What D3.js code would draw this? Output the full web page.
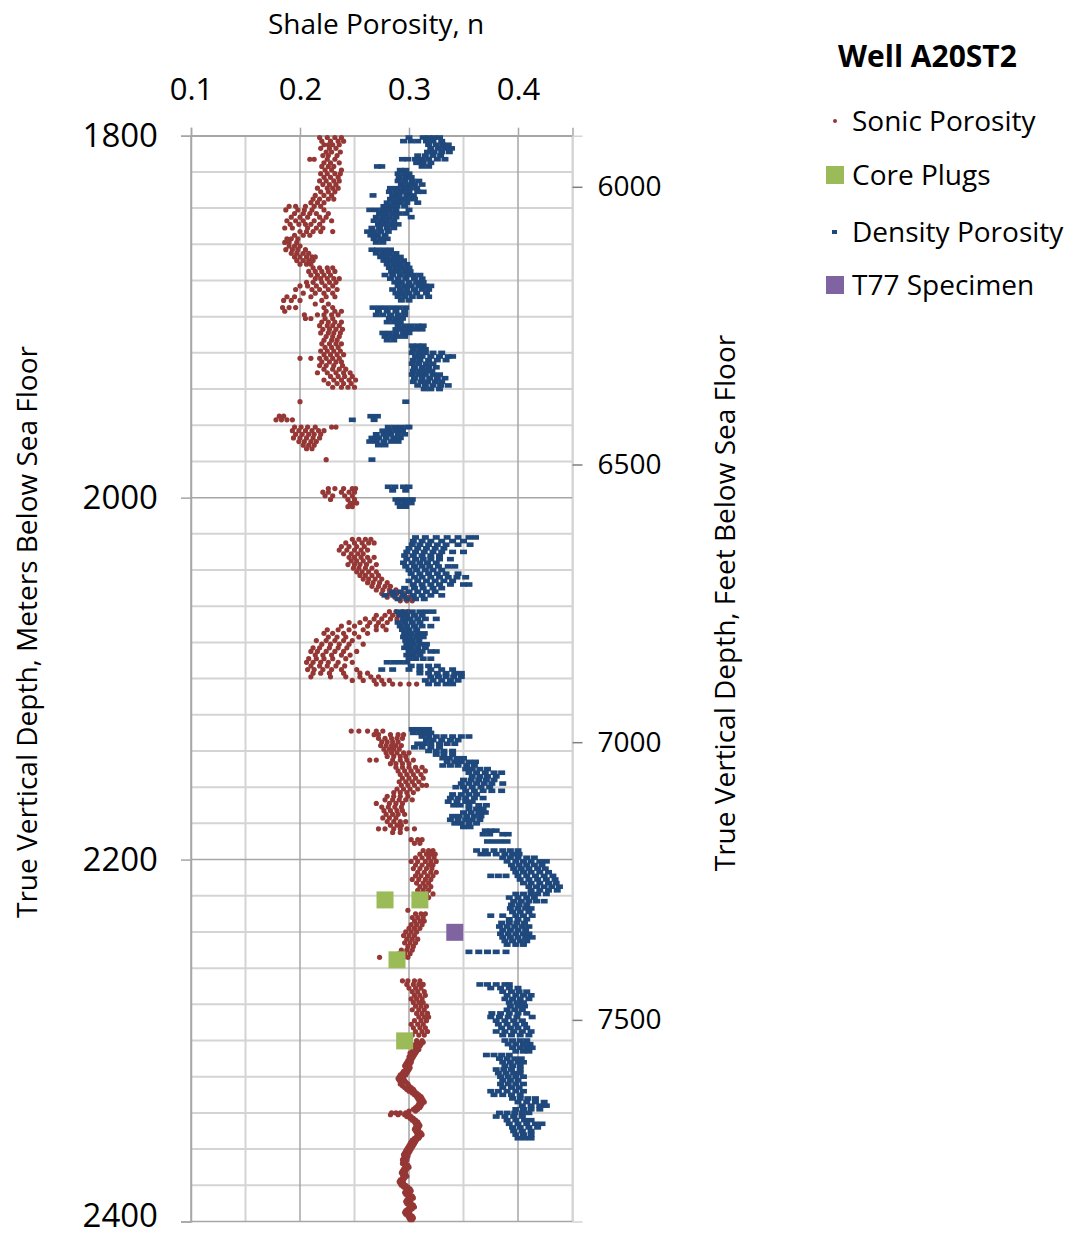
<!DOCTYPE html>
<html><head><meta charset="utf-8">
<script src="https://cdn.jsdelivr.net/npm/d3@7"></script>
<style>
html,body{margin:0;padding:0;background:#fff;}
svg{display:block;}
text{font-family:"Open Sans","Noto Sans",sans-serif;fill:#000;}
</style></head><body>
<svg id="chart" width="1068" height="1237"></svg>
<script>
// ---- Data ----
const xTicks = [0.1, 0.2, 0.3, 0.4];
const yTicks = [1800, 2000, 2200, 2400];
const ftTicks = [6000, 6500, 7000, 7500];
const seriesNames = ["Sonic Porosity", "Core Plugs", "Density Porosity", "T77 Specimen"];

// Sonic porosity: [depth m, porosity values...]
const sonicRows = [
[1801,.218,.225,.232,.238],[1803,.220,.228,.235,.240],[1805,.222,.226,.230,.236],[1807,.219,.227,.233],
[1809,.224,.229,.237],[1811,.221,.226,.234],[1813,.209,.213,.225,.232],[1815,.222,.228,.236],
[1817,.220,.226,.231],[1819,.223,.229,.238],[1821,.219,.225,.232,.237],[1823,.222,.228,.235],
[1825,.218,.224,.231,.236],[1827,.221,.227,.233],[1829,.216,.225,.230,.235],[1831,.219,.226,.232],
[1833,.214,.222,.229],[1835,.212,.218,.226,.231],[1837,.210,.216,.222],[1839,.190,.196,.205,.213,.219],
[1841,.187,.198,.204,.211,.222],[1843,.195,.203,.209,.215,.226],[1845,.192,.200,.207,.218,.224],
[1847,.188,.196,.203,.213,.221,.229],[1849,.191,.199,.205,.210,.218],[1851,.186,.193,.207,.215,.221],
[1853,.200,.206,.212,.219,.230],[1855,.195,.203,.209],[1857,.188,.192,.198],[1859,.186,.190,.197],
[1861,.190,.195,.200],[1863,.187,.193,.198,.205],[1865,.192,.197,.203,.208],[1867,.195,.200,.206,.211,.214],
[1869,.197,.203,.208,.212],[1871,.200,.206,.210],[1873,.212,.218,.225,.230],[1875,.208,.214,.220,.226,.232],
[1877,.210,.216,.222,.228],[1879,.214,.219,.225,.231,.236],[1881,.206,.212,.220,.227,.233],
[1883,.200,.207,.215,.223,.230],[1885,.196,.211,.218,.226,.234],[1887,.203,.214,.222,.230],
[1889,.188,.195,.210,.224,.232],[1891,.185,.192,.200,.220],[1893,.214,.226],[1895,.184,.190,.196,.222,.230],
[1897,.186,.224,.232,.238],[1899,.204,.216,.222,.229,.235],[1901,.205,.210,.223,.230],
[1903,.220,.226,.232,.238],[1905,.218,.225,.230,.236],[1907,.221,.227,.233,.239],[1909,.219,.226,.231,.237],
[1911,.224,.230,.236],[1913,.222,.229,.234],[1915,.220,.227,.233,.238],[1917,.223,.229,.235],
[1919,.219,.225,.231,.237],[1921,.222,.228,.234,.240],[1923,.200,.210,.218,.224,.230,.236],
[1925,.220,.227,.233,.238],[1927,.218,.224,.231,.239],[1929,.222,.230,.236,.242],
[1931,.216,.225,.233,.240,.246],[1933,.228,.235,.241,.248],[1935,.222,.231,.238,.245,.251],
[1937,.226,.234,.240,.247],[1939,.230,.238,.244,.250],[1947,.200],[1955,.181,.185],
[1957,.178,.183,.188,.193],[1961,.195,.201,.207,.214,.229,.233],[1963,.193,.199,.205,.211,.217,.222],
[1965,.196,.202,.208,.213,.219],[1967,.194,.200,.206,.212,.218],[1969,.199,.204,.210,.215],
[1971,.203,.208,.213],[1973,.206,.211],[1979,.224],[1995,.226,.232,.240,.248,.251],
[1997,.221,.226,.238,.245,.250],[1999,.223,.230,.241,.248],[2001,.228,.244,.250],[2003,.246,.249,.252],
[2005,.244,.248],
[2023,.248,.254,.260,.265],[2025,.242,.250,.257,.263,.268],[2027,.238,.245,.252,.259],
[2029,.236,.243,.250,.256,.262],[2031,.240,.247,.253,.258],[2033,.245,.250,.256,.262,.268],
[2035,.247,.252,.258,.264],[2037,.244,.250,.255,.261,.270],[2039,.249,.254,.260,.266],
[2041,.252,.257,.263,.270],[2043,.255,.260,.266,.272],[2045,.258,.263,.269,.275],
[2047,.262,.267,.273,.280],[2049,.266,.272,.278,.283],[2051,.270,.276,.282,.288],
[2053,.275,.282,.289,.296],[2055,.280,.287,.293,.300,.304],[2057,.292,.298,.303],
[2063,.282,.288,.294,.299],[2065,.270,.278,.285,.290,.296],[2067,.260,.268,.275,.283,.289],
[2069,.245,.255,.264,.272,.280],[2071,.238,.250,.262,.270,.276],[2073,.225,.235,.245,.258,.270,.279],
[2075,.222,.230,.240,.250,.262],[2077,.226,.234,.242,.254],[2079,.215,.224,.232,.240,.248],
[2081,.220,.228,.236,.245,.258],[2083,.212,.218,.227,.235,.243],[2085,.210,.216,.224,.232,.240,.252],
[2087,.214,.221,.229,.238,.246],[2089,.208,.215,.222,.230,.242],[2091,.206,.212,.219,.226,.235,.248],
[2093,.210,.218,.225,.233,.241],[2095,.207,.213,.221,.229,.238,.252],[2097,.212,.219,.227,.240,.255,.262],
[2099,.210,.228,.242,.255,.265,.272],[2101,.248,.258,.268,.275,.282],[2103,.270,.277,.285,.292,.300,.307],
[2129,.247,.254,.262,.270,.276],[2131,.268,.272,.283,.290,.295],[2133,.272,.278,.284,.289,.294],
[2135,.275,.280,.285,.290],[2137,.274,.279,.284,.288,.293],[2139,.277,.282,.286,.291],
[2141,.279,.284,.289,.295,.300],[2143,.280,.286,.292,.297],[2145,.264,.270,.285,.292,.298,.304],
[2147,.283,.288,.294,.300],[2149,.288,.294,.300,.306,.312],[2151,.290,.296,.302,.308,.315],
[2153,.292,.298,.304,.311],[2155,.294,.300,.306,.313],[2157,.291,.297,.303,.309],
[2159,.293,.299,.305,.312,.316],[2161,.289,.295,.301,.308],[2163,.286,.292,.298,.304],
[2165,.280,.286,.292,.299],[2167,.278,.285,.291,.297,.303],[2169,.270,.282,.288,.294],
[2171,.275,.281,.287,.293],[2173,.277,.283,.289,.294],[2175,.279,.285,.290,.296],[2177,.276,.282,.288],
[2179,.280,.286,.292,.297],[2181,.283,.289,.293],[2183,.272,.278,.286,.292,.298,.305],[2185,.285,.292],
[2189,.302,.308,.312],[2191,.305,.310],[2195,.313,.318,.322],[2197,.310,.316,.320,.324],
[2199,.306,.312,.318,.323],[2201,.302,.308,.315,.320,.325],[2203,.306,.312,.318,.322],
[2205,.304,.310,.316,.321],[2207,.308,.314,.320,.325],[2209,.306,.311,.317,.322],
[2211,.303,.309,.315,.320],[2213,.307,.313,.318],[2215,.310,.315,.320],[2217,.308,.313,.318],
[2219,.311,.316,.322],[2221,.313,.318],[2228,.299],[2230,.306,.311,.315],[2232,.303,.308,.313],
[2234,.305,.310,.314],[2236,.302,.307,.312],[2238,.300,.305,.310],[2240,.297,.302,.307],
[2242,.295,.300,.305],[2244,.298,.303,.308],[2246,.296,.301,.306],[2248,.299,.304],
[2250,.293,.298,.303],[2252,.291,.296,.301],[2254,.273,.295,.299],
[2267,.294,.299,.305,.310],[2269,.298,.304,.309,.313],[2271,.300,.306,.311],[2273,.303,.308,.314],
[2275,.305,.310,.315],[2277,.302,.307,.312],[2279,.304,.309,.313],[2281,.306,.311,.316],
[2283,.303,.309,.314],[2285,.307,.312,.317],[2287,.309,.314,.318],[2289,.305,.311,.316],
[2291,.302,.308,.313],[2293,.304,.310,.315],[2295,.306,.312,.317],[2297,.303,.309,.314],
[2300,.307,.312],[2301,.308,.313],[2302,.306,.311],[2303,.305,.310],[2304,.307],[2305,.304,.309],
[2306,.303,.307],[2307,.301,.306],[2308,.302,.305],[2309,.300,.304],[2310,.301,.303],[2311,.299,.302],
[2312,.298,.302],[2313,.297,.301],[2314,.296,.300],[2315,.298,.301],[2316,.297,.300],[2317,.295,.299],
[2318,.294,.298],[2319,.292,.297],[2320,.291,.295],[2321,.290,.294],[2322,.291,.296],[2323,.293,.297],
[2324,.292,.299],[2325,.294,.300],[2326,.296,.302],[2327,.298,.304],[2328,.300,.305],[2329,.303,.307],
[2330,.305,.309],[2331,.307,.311],[2332,.308,.312],[2333,.309,.313],[2334,.310,.314],[2335,.309,.312],
[2336,.308,.311],[2337,.306,.310],[2338,.304,.308],[2339,.300,.306],[2340,.284,.288,.292,.297],
[2341,.283,.290,.296,.300],[2342,.298,.302],[2343,.301,.304],[2344,.303,.306],[2345,.305,.308],
[2346,.306,.309],[2347,.307,.310],[2348,.306,.309],[2349,.305,.308],[2350,.306,.309],[2351,.307,.311],
[2352,.308,.312],[2353,.307,.310],[2354,.305,.309],[2355,.303,.307],[2356,.302,.306],[2357,.301,.305],
[2358,.300,.304],[2359,.299,.303],[2360,.298,.302],[2361,.297,.301],[2362,.296,.300],[2363,.295,.299],
[2364,.296,.299],[2365,.295,.298],[2366,.294,.298],[2367,.295,.297],[2368,.294,.297],[2369,.296,.299],
[2370,.297,.300],[2371,.295,.298],[2372,.294,.297],[2373,.293,.296],[2374,.294,.297],[2375,.295,.298],
[2376,.294,.296],[2377,.292,.295],[2378,.291,.294],[2379,.292,.295],[2380,.293,.297],[2381,.295,.299],
[2382,.297,.301],[2383,.298,.302],[2384,.296,.300],[2385,.297,.301],[2386,.299,.303],[2387,.300,.304],
[2388,.298,.302],[2389,.297,.301],[2390,.298,.302],[2391,.300,.304],[2392,.301,.305],[2393,.299,.303],
[2394,.297,.301],[2395,.296,.300],[2396,.297,.301],[2397,.299,.303],[2398,.300,.304],[2399,.301,.303]
];

// Density porosity: [depth m, porosity values...]
const densityRows = [
[1801,.300,.313,.318,.323,.328],[1803,.295,.302,.308,.316,.322,.330],[1805,.318,.325,.331,.336],
[1807,.320,.327,.333,.339],[1809,.317,.323,.330,.337],[1811,.308,.315,.322,.329],
[1813,.294,.299,.306,.312,.318,.326,.333],[1815,.307,.313,.320],[1817,.271,.275,.312,.318],
[1819,.292,.297],[1821,.290,.296,.300],[1823,.291,.297,.302],[1825,.290,.296,.303,.309],
[1827,.293,.299,.305,.312],[1829,.283,.289,.295,.301,.307],[1831,.282,.288,.294,.300,.308,.313],
[1833,.267,.285,.291,.298,.304],[1835,.283,.289,.294,.300,.305],[1837,.280,.286,.292,.298,.308],
[1839,.277,.283,.289,.296],[1841,.264,.270,.276,.282,.288,.300],[1843,.273,.279,.285,.291,.297],
[1845,.270,.276,.282,.288,.302],[1847,.268,.274,.280,.286],[1849,.272,.278,.284,.290],
[1851,.266,.273,.280,.286],[1853,.262,.268,.274,.281],[1855,.265,.271,.278],[1857,.268,.274,.280],
[1859,.270,.276],[1863,.266,.271,.277,.283],[1865,.270,.276,.282,.288],[1867,.274,.280,.286,.292],
[1869,.277,.283,.289,.295],[1871,.280,.286,.292,.298],[1873,.282,.288,.294,.300],
[1875,.284,.290,.296,.301],[1877,.278,.285,.292,.298,.304,.310],[1879,.283,.290,.297,.305,.312],
[1881,.287,.293,.300,.307,.313],[1883,.290,.296,.302,.309,.315,.320],[1885,.285,.292,.298,.305,.312,.318],
[1887,.288,.294,.300,.307,.316],[1889,.290,.296,.303,.310,.318],[1891,.293,.300],
[1895,.267,.273,.279,.285,.291,.297],[1897,.272,.280,.288,.296],
[1899,.270,.276,.283,.290,.296],[1901,.282,.288,.294],[1903,.280,.286,.292],
[1905,.290,.296,.302,.308,.313],[1907,.288,.294,.300,.306,.312],[1909,.276,.282,.288,.295,.300],
[1911,.278,.284,.290,.296],[1913,.280,.286],[1916,.303,.308,.313],[1918,.304,.310,.315],
[1920,.303,.309,.315,.322,.330],[1922,.306,.312,.320,.328,.336,.340],[1924,.304,.310,.318,.326,.334],
[1926,.303,.309,.316,.322],[1928,.305,.312,.318,.325],[1930,.304,.310,.316,.321],
[1932,.303,.309,.315,.322,.328],[1934,.305,.312,.319,.326,.333],[1936,.304,.311,.317,.324,.330],
[1938,.308,.315,.322,.329,.336],[1940,.314,.320,.328],[1947,.297],[1955,.265,.271],[1957,.248,.268],
[1961,.281,.287,.293,.299,.300],[1963,.276,.282,.288,.294],[1965,.270,.277,.283,.290,.296],
[1967,.266,.272,.279,.286,.292],[1969,.264,.270,.277,.284,.290],[1971,.272,.278],[1979,.266],
[1994,.281,.287,.295,.300],[1996,.285,.297],
[2001,.288,.293,.298,.303],[2003,.290,.296,.302],[2005,.292,.297],
[2022,.306,.315,.325,.335,.345,.355,.361],[2024,.304,.312,.320,.330,.340,.350],
[2026,.303,.310,.318,.326,.334,.345,.356],[2028,.300,.308,.316,.324,.332],
[2030,.298,.306,.314,.322,.330,.340,.350],[2032,.296,.304,.312,.320,.328],
[2034,.298,.306,.313,.320,.328,.338],[2036,.295,.303,.310,.317,.325],
[2038,.297,.305,.312,.319,.327,.336,.342],[2040,.300,.307,.315,.322,.330],
[2042,.302,.310,.318,.326,.334,.345],[2044,.305,.312,.320,.328,.336,.344,.352],
[2046,.300,.308,.316,.324,.332,.340],[2048,.304,.312,.320,.328,.338,.350,.355],
[2050,.296,.305,.313,.322,.330],[2052,.285,.292,.300,.308,.316,.324],
[2054,.278,.286,.295,.304,.312,.320,.330],[2056,.290,.298,.306,.314],
[2063,.290,.296,.303,.310,.316,.322],[2065,.292,.298,.305,.312],[2067,.295,.301,.308,.315,.325],
[2069,.290,.296,.303,.310],[2071,.292,.298,.305,.312,.320],[2073,.294,.300,.307],
[2075,.296,.302,.308,.314],[2077,.295,.301,.307,.313],[2079,.297,.303,.309],
[2081,.298,.304,.310,.316],[2083,.296,.302,.308,.315],[2085,.300,.306,.312,.320,.325],
[2087,.298,.304,.310],[2089,.300,.306,.313,.320],[2091,.280,.286,.292,.298],
[2093,.302,.310,.318,.326],[2095,.275,.285,.300,.310,.320,.330,.340],
[2097,.310,.318,.326,.334,.342,.348],[2099,.320,.327,.334,.341,.348],
[2101,.315,.322,.330,.338,.345],[2103,.318,.326,.334,.340],
[2128,.303,.308,.313,.318],[2130,.304,.310,.316,.320],[2132,.312,.318,.325,.332,.340,.348,.355],
[2134,.316,.322,.330,.338,.345],[2136,.308,.314,.320,.328,.335,.342],[2138,.305,.312,.320,.328],
[2140,.318,.325,.332,.340],[2142,.325,.332,.340],[2144,.331,.337,.344,.350],
[2146,.335,.342,.348,.355,.361],[2148,.331,.338,.345,.353,.360],[2150,.352,.358,.365,.372],
[2152,.355,.362,.370,.378,.385],[2154,.358,.365,.372,.380],[2156,.350,.357,.364,.371,.378],
[2158,.348,.355,.362,.369,.376,.386],[2160,.343,.350,.358,.366,.374],[2162,.352,.360,.368,.376,.385],
[2164,.340,.348,.355,.362],[2166,.338,.345,.352,.360,.368],[2168,.336,.344,.352,.358],
[2170,.341,.347,.355,.364,.371],[2172,.355,.362,.368],[2174,.350,.357,.364,.370],
[2176,.340,.346,.353,.360,.366],[2178,.338,.345,.352,.358,.365],[2180,.342,.348,.355,.362],
[2182,.350,.356],[2184,.370,.375,.380],[2186,.368,.374,.386,.391],[2190,.372,.378,.384,.390],
[2195,.362,.370,.378,.386,.393,.400],[2197,.366,.372,.380,.388,.395,.401],
[2199,.386,.393,.400,.408,.415],[2201,.390,.398,.405,.412,.420,.426],[2203,.394,.401,.408,.415,.422],
[2205,.396,.403,.410,.418,.425],[2207,.398,.405,.412,.420,.428],
[2209,.375,.382,.389,.400,.408,.416,.424,.432],[2211,.402,.410,.418,.426,.434],
[2213,.405,.412,.420,.428,.435],[2215,.410,.417,.424,.431,.438],[2217,.412,.420,.428,.436],
[2219,.398,.405,.412,.418,.426],[2221,.392,.400,.408,.415],[2223,.396,.403,.410,.417,.424],
[2225,.394,.401,.408],[2227,.393,.400,.407,.412],[2229,.395,.402,.410],
[2231,.375,.386,.398,.405,.413],[2233,.392,.400,.408],[2235,.385,.392,.399,.406],
[2237,.383,.390,.397,.404,.410],[2239,.386,.393,.400,.407],[2241,.384,.391,.398,.405,.410],
[2243,.386,.393,.400,.407,.413],[2245,.388,.395,.402,.408],[2247,.390,.398,.405],
[2251,.355,.364,.372,.380,.389],
[2269,.365,.372,.380,.388,.392],[2271,.375,.384,.392,.400],[2273,.386,.394,.401,.408],
[2275,.390,.398,.405,.412],[2277,.388,.395,.402,.410],[2279,.392,.399,.405],[2281,.393,.400,.406],
[2283,.390,.397,.404],[2285,.376,.384,.392,.400,.408],[2287,.375,.383,.391,.399,.413],
[2289,.380,.388,.396,.404],[2291,.382,.390,.398,.406],[2293,.385,.393,.400,.408],
[2295,.380,.388,.396,.404,.412],[2297,.386,.394,.402,.410],
[2300,.388,.395,.402,.408],[2302,.391,.398,.405,.411],[2304,.395,.402,.408,.413],[2306,.398,.405,.410],
[2308,.371,.378,.385,.392],[2310,.383,.390,.397,.403],[2312,.386,.393,.400,.405],[2314,.388,.395,.402],
[2316,.380,.387,.394,.402],[2318,.382,.389,.396,.402],[2320,.384,.391,.398,.405],[2322,.386,.393,.400],
[2324,.384,.391,.398,.405],[2326,.386,.394,.401],[2328,.375,.382,.390,.398,.405],
[2330,.378,.386,.394,.402],[2332,.395,.402,.409,.416],[2334,.400,.408,.416,.424],
[2336,.404,.412,.420,.426],[2338,.398,.405,.412,.420],[2340,.383,.390,.397,.404,.410],
[2342,.380,.388,.396,.404],[2344,.390,.398,.406,.412],[2346,.392,.400,.408,.416,.422],
[2348,.395,.402,.410,.418],[2350,.396,.404,.412],[2352,.398,.405,.412],[2354,.400,.406,.412]
];

// Core plugs: [depth m, porosity]
const corePlugs = [[2222.3, .278], [2222.3, .310], [2255.4, .289], [2300.2, .296]];
// T77 specimen
const t77 = [[2240.2, .342]];

// ---- Drawing ----
const svg = d3.select("#chart");
const C = { sonic: "#953735", core: "#9BBB59", dens: "#1F497D", t77: "#8064A2" };

const x = d3.scaleLinear().domain([0.1, 0.45]).range([191, 572.5]);
const y = d3.scaleLinear().domain([1800, 2400]).range([135.7, 1221.5]);
const yFt = d3.scaleLinear().domain([5908, 7863]).range([135.7, 1221.5]);

const minorX = d3.range(0.15, 0.451, 0.1);
const minorY = d3.range(1820, 2400, 20).filter(v => v % 200 !== 0);

const grid = svg.append("g");
grid.selectAll(".mx").data(minorX).join("line")
  .attr("x1", d => x(d)).attr("x2", d => x(d)).attr("y1", y(1800)).attr("y2", y(2400))
  .attr("stroke", "#d4d4d4").attr("stroke-width", 2);
grid.selectAll(".my").data(minorY).join("line")
  .attr("x1", x(0.1)).attr("x2", x(0.45)).attr("y1", d => y(d)).attr("y2", d => y(d))
  .attr("stroke", "#d4d4d4").attr("stroke-width", 2);
grid.selectAll(".Mx").data(xTicks).join("line")
  .attr("x1", d => x(d)).attr("x2", d => x(d)).attr("y1", y(1800)).attr("y2", y(2400))
  .attr("stroke", "#a6a6a6").attr("stroke-width", 1.5);
grid.selectAll(".My").data(yTicks).join("line")
  .attr("x1", x(0.1)).attr("x2", x(0.45)).attr("y1", d => y(d)).attr("y2", d => y(d))
  .attr("stroke", "#a6a6a6").attr("stroke-width", 1.5);

// Axes
const fontFam = '"Open Sans","Noto Sans",sans-serif';
const axTop = svg.append("g").attr("transform", `translate(0,${y(1800)})`)
  .call(d3.axisTop(x).tickValues(xTicks).tickFormat(d3.format(".1f")).tickSize(8).tickPadding(28));
const axLeft = svg.append("g").attr("transform", `translate(${x(0.1)},0)`)
  .call(d3.axisLeft(y).tickValues(yTicks).tickFormat(d3.format("d")).tickSize(10).tickPadding(23));
const axRight = svg.append("g").attr("transform", `translate(${x(0.45)},0)`)
  .call(d3.axisRight(yFt).tickValues(ftTicks).tickFormat(d3.format("d")).tickSize(10).tickPadding(15));
[axTop, axLeft, axRight].forEach(g => {
  g.select(".domain").attr("stroke", "#a6a6a6").attr("stroke-width", 1.5);
  g.selectAll(".tick line").attr("stroke", "#a6a6a6").attr("stroke-width", 1.5);
  g.selectAll(".tick text").attr("font-family", fontFam).attr("fill", "#000");
});
axTop.selectAll(".tick text").attr("font-size", 31);
axLeft.selectAll(".tick text").attr("font-size", 33);
// keep the bottom label fully inside the picture
axLeft.selectAll(".tick text").filter(d => d === 2400).attr("dy", "0.14em");
axRight.selectAll(".tick text").attr("font-size", 28);
axRight.select(".domain").attr("stroke", "#d4d4d4");
axRight.selectAll(".tick line").attr("stroke", "#7f7f7f");

// Series
const sonicPts = sonicRows.flatMap(r => r.slice(1).map(p => ({ d: r[0], p })));
const densPts = densityRows.flatMap(r => r.slice(1).map(p => ({ d: r[0], p })));

svg.append("g").selectAll("circle").data(sonicPts).join("circle")
  .attr("cx", d => x(d.p)).attr("cy", d => y(d.d)).attr("r", 2.6).attr("fill", C.sonic);

const sq = 17;
svg.append("g").selectAll("rect").data(corePlugs).join("rect")
  .attr("x", d => x(d[1]) - sq / 2).attr("y", d => y(d[0]) - sq / 2)
  .attr("width", sq).attr("height", sq).attr("fill", C.core);

svg.append("g").selectAll("rect").data(densPts).join("rect")
  .attr("x", d => x(d.p) - 3.5).attr("y", d => y(d.d) - 2.3)
  .attr("width", 7).attr("height", 4.6).attr("fill", C.dens);

svg.append("g").selectAll("rect").data(t77).join("rect")
  .attr("x", d => x(d[1]) - sq / 2).attr("y", d => y(d[0]) - sq / 2)
  .attr("width", sq).attr("height", sq).attr("fill", C.t77);

// Titles
svg.append("text").attr("x", 376).attr("y", 34).attr("text-anchor", "middle")
  .attr("font-size", 28).text("Shale Porosity, n");
svg.append("text").attr("transform", "translate(37,632) rotate(-90)").attr("text-anchor", "middle")
  .attr("font-size", 28).text("True Vertical Depth, Meters Below Sea Floor");
svg.append("text").attr("transform", "translate(735,603) rotate(-90)").attr("text-anchor", "middle")
  .attr("font-size", 28).text("True Vertical Depth, Feet Below Sea Floor");

// Legend
const lg = svg.append("g");
lg.append("text").attr("x", 838).attr("y", 67).attr("font-size", 30).attr("font-weight", "bold").text("Well A20ST2");
const legY = [121, 175, 232, 285];
const legItems = [
  { name: seriesNames[0], kind: "dot", color: C.sonic },
  { name: seriesNames[1], kind: "sq", color: C.core },
  { name: seriesNames[2], kind: "small", color: C.dens },
  { name: seriesNames[3], kind: "sq", color: C.t77 }
];
legItems.forEach((it, i) => {
  const cy = legY[i];
  if (it.kind === "dot") lg.append("circle").attr("cx", 835).attr("cy", cy).attr("r", 2).attr("fill", it.color);
  else if (it.kind === "small") lg.append("rect").attr("x", 832).attr("y", cy - 2).attr("width", 5).attr("height", 4).attr("fill", it.color);
  else lg.append("rect").attr("x", 826).attr("y", cy - 9).attr("width", 18).attr("height", 18).attr("fill", it.color);
  lg.append("text").attr("x", 852).attr("y", cy + 10).attr("font-size", 28).text(it.name);
});
</script>
</body></html>
